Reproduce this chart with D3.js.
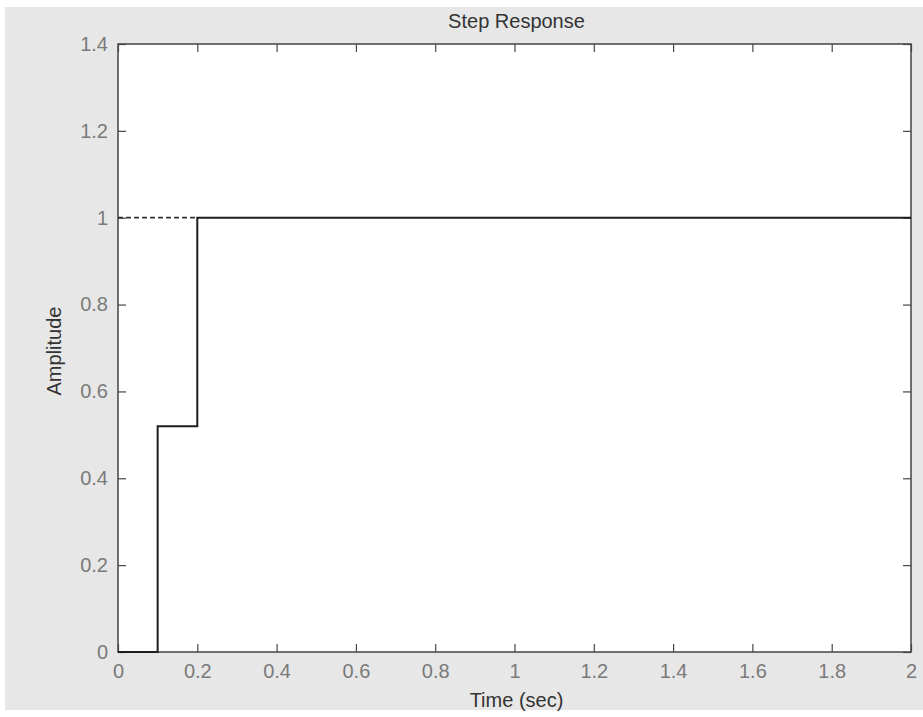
<!DOCTYPE html>
<html>
<head>
<meta charset="utf-8">
<script src="https://cdn.jsdelivr.net/npm/d3@7/dist/d3.min.js"></script>
<style>
  html, body { margin: 0; padding: 0; background: #ffffff; }
  svg { display: block; }
  text { font-family: "Liberation Sans", Arial, sans-serif; }
</style>
</head>
<body>
<svg id="chart" width="923" height="717"></svg>
<script>
// Step response of the discrete system: sample instants and held output levels
const stepTime = [0, 0.1, 0.2, 2];
const stepAmplitude = [0, 0.52, 1, 1];
// Steady-state value, drawn dashed up to where the response reaches it
const finalValue = 1;
const settleTime = 0.2;

const xTicks = [0, 0.2, 0.4, 0.6, 0.8, 1, 1.2, 1.4, 1.6, 1.8, 2];
const xTickLabels = ["0", "0.2", "0.4", "0.6", "0.8", "1", "1.2", "1.4", "1.6", "1.8", "2"];
const yTicks = [0, 0.2, 0.4, 0.6, 0.8, 1, 1.2, 1.4];
const yTickLabels = ["0", "0.2", "0.4", "0.6", "0.8", "1", "1.2", "1.4"];

const svg = d3.select("#chart");
const W = 923, H = 717;
const plot = { left: 118, right: 911, top: 44, bottom: 652 };

// Figure background
svg.append("rect").attr("x", 0).attr("y", 0).attr("width", W).attr("height", H).attr("fill", "#ffffff");
svg.append("rect").attr("x", 5).attr("y", 7).attr("width", W - 5).attr("height", 703).attr("fill", "#e7e7e7");

// Axes area
svg.append("rect")
  .attr("x", plot.left).attr("y", plot.top)
  .attr("width", plot.right - plot.left).attr("height", plot.bottom - plot.top)
  .attr("fill", "#ffffff");

const x = d3.scaleLinear().domain([0, 2]).range([plot.left, plot.right]);
const y = d3.scaleLinear().domain([0, 1.4]).range([plot.bottom, plot.top]);

const fontSize = 20;

function styleAxis(g, showText) {
  g.select(".domain").remove();
  g.selectAll(".tick line").attr("stroke", "#444").attr("stroke-width", 1.2);
  g.selectAll(".tick text")
    .attr("font-size", fontSize)
    .attr("fill", "#7a7a7a")
    .attr("font-family", "'Liberation Sans', Arial, sans-serif");
  if (!showText) g.selectAll(".tick text").remove();
}

// Bottom axis with labels, ticks pointing inward
svg.append("g")
  .attr("transform", `translate(0,${plot.bottom})`)
  .call(d3.axisBottom(x).tickValues(xTicks).tickFormat((d, i) => xTickLabels[i])
    .tickSizeInner(-8).tickSizeOuter(0).tickPadding(12))
  .call(g => styleAxis(g, true));

// Left axis with labels
svg.append("g")
  .attr("transform", `translate(${plot.left},0)`)
  .call(d3.axisLeft(y).tickValues(yTicks).tickFormat((d, i) => yTickLabels[i])
    .tickSizeInner(-8).tickSizeOuter(0).tickPadding(10))
  .call(g => styleAxis(g, true));

// Mirrored ticks on top and right
svg.append("g")
  .attr("transform", `translate(0,${plot.top})`)
  .call(d3.axisTop(x).tickValues(xTicks).tickFormat("").tickSizeInner(-8).tickSizeOuter(0))
  .call(g => styleAxis(g, false));
svg.append("g")
  .attr("transform", `translate(${plot.right},0)`)
  .call(d3.axisRight(y).tickValues(yTicks).tickFormat("").tickSizeInner(-8).tickSizeOuter(0))
  .call(g => styleAxis(g, false));

// Box
svg.append("rect")
  .attr("x", plot.left).attr("y", plot.top)
  .attr("width", plot.right - plot.left).attr("height", plot.bottom - plot.top)
  .attr("fill", "none").attr("stroke", "#444").attr("stroke-width", 1.5);

// Steady-state line
svg.append("line")
  .attr("x1", x(0)).attr("x2", x(settleTime))
  .attr("y1", y(finalValue)).attr("y2", y(finalValue))
  .attr("stroke", "#333").attr("stroke-width", 1.7)
  .attr("stroke-dasharray", "5,3");

// Step response (zero-order hold)
const pts = stepTime.map((t, i) => [t, stepAmplitude[i]]);
svg.append("path")
  .datum(pts)
  .attr("fill", "none")
  .attr("stroke", "#1e1e1e")
  .attr("stroke-width", 2)
  .attr("d", d3.line().x(d => x(d[0])).y(d => y(d[1])).curve(d3.curveStepAfter));

// Title and axis labels
svg.append("text")
  .attr("x", (plot.left + plot.right) / 2 + 2).attr("y", 28)
  .attr("text-anchor", "middle").attr("font-size", fontSize).attr("fill", "#333")
  .text("Step Response");

svg.append("text")
  .attr("x", (plot.left + plot.right) / 2 + 2).attr("y", 707)
  .attr("text-anchor", "middle").attr("font-size", fontSize).attr("fill", "#333")
  .text("Time (sec)");

svg.append("text")
  .attr("transform", `translate(61,${(plot.top + plot.bottom) / 2 + 3}) rotate(-90)`)
  .attr("text-anchor", "middle").attr("font-size", fontSize).attr("fill", "#333")
  .text("Amplitude");
</script>
</body>
</html>
